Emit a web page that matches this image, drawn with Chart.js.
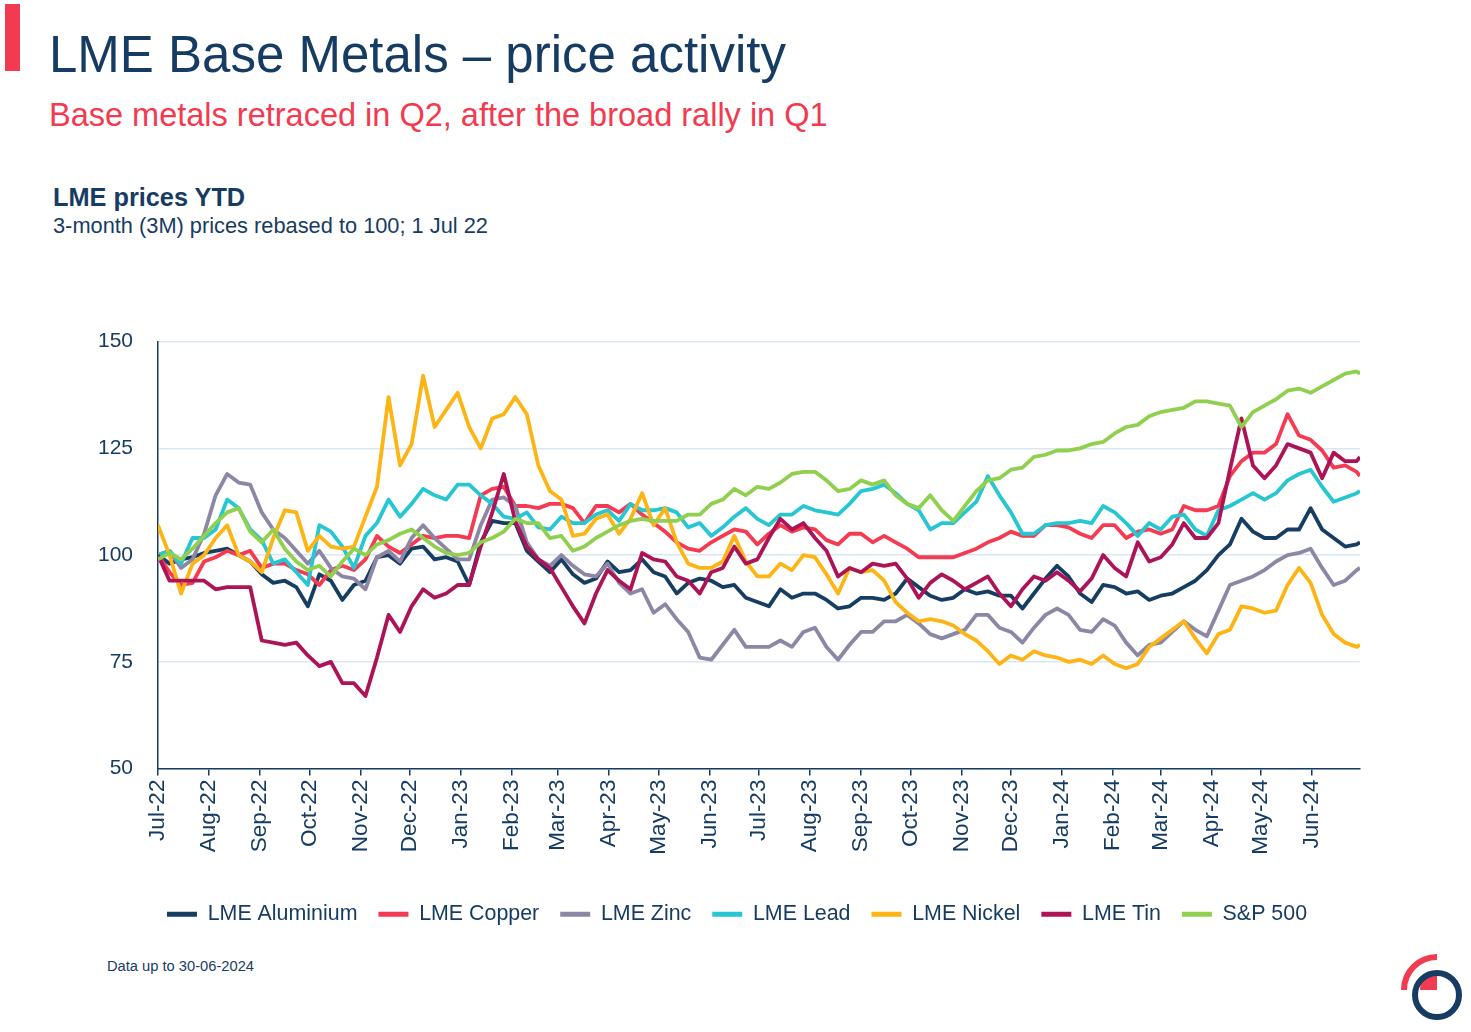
<!DOCTYPE html>
<html>
<head>
<meta charset="utf-8">
<script src="https://cdn.jsdelivr.net/npm/chart.js@4.4.1/dist/chart.umd.min.js"></script>
<style>
  body { margin:0; width:1471px; height:1032px; background:#fff; position:relative; overflow:hidden;
         font-family:'Liberation Sans', Arial, sans-serif; color:#173c63; }
  .abs { position:absolute; white-space:nowrap; line-height:1; }
  #bar { left:5px; top:4px; width:15px; height:67px; background:#f23a50; }
  #title { left:49px; top:29px; font-size:51px; }
  #subtitle { left:49px; top:99px; font-size:32.5px; color:#f23a50; }
  #heading { left:53px; top:185px; font-size:25.3px; font-weight:bold; }
  #note { left:53px; top:215px; font-size:21.8px; }
  #footer { left:107px; top:959px; font-size:14.7px; }
  #chart { position:absolute; left:80px; top:304px; }
  #logo { position:absolute; left:1390px; top:945px; }
</style>
</head>
<body>
<div id="bar" class="abs"></div>
<div id="title" class="abs">LME Base Metals – price activity</div>
<div id="subtitle" class="abs">Base metals retraced in Q2, after the broad rally in Q1</div>
<div id="heading" class="abs">LME prices YTD</div>
<div id="note" class="abs">3-month (3M) prices rebased to 100; 1 Jul 22</div>
<canvas id="chart" width="1300" height="631"></canvas>
<div id="footer" class="abs">Data up to 30-06-2024</div>
<svg id="logo" width="80" height="85">
  <path d="M14,45 A33,33 0 0 1 47,12" fill="none" stroke="#f23a50" stroke-width="6"/>
  <path d="M47,45 L30,45 A17,17 0 0 1 47,28 Z" fill="#f23a50"/>
  <circle cx="47" cy="50" r="22" fill="none" stroke="#173c63" stroke-width="6"/>
</svg>
<script>
// ---------------- DATA ----------------
const seriesNames = ['LME Aluminium', 'LME Copper', 'LME Zinc', 'LME Lead', 'LME Nickel', 'LME Tin', 'S&P 500'];
const seriesColors = ['#163d62', '#f43b51', '#8c87a5', '#26c6d2', '#fdb515', '#ad1457', '#90d04e'];

const monthLabels = ['Jul-22','Aug-22','Sep-22','Oct-22','Nov-22','Dec-22','Jan-23','Feb-23','Mar-23','Apr-23','May-23','Jun-23',
                     'Jul-23','Aug-23','Sep-23','Oct-23','Nov-23','Dec-23','Jan-24','Feb-24','Mar-24','Apr-24','May-24','Jun-24'];
// days since 1 Jul 22 for each month start
const monthDays = [0,31,62,92,123,153,184,215,243,274,304,335,365,396,427,457,488,518,549,580,609,640,670,701];
const yTicks = [50, 75, 100, 125, 150];

// weekly readings (rebased, 1 Jul 22 = 100), last value = 30 Jun 24
const aluminium = [100, 98, 99, 99.5, 100.5, 101, 101.5, 100, 98.5, 95.5,
  93.5, 94, 92.5, 88, 95.5, 94, 89.5, 93, 94, 99.5,
  100, 98, 101.5, 102, 99, 99.5, 98.5, 93, 103, 108,
  107.5, 107.5, 101, 98.5, 96, 99, 95.5, 93.5, 94.5, 98.5,
  96, 96.5, 99, 96, 95, 91, 93.5, 94.5, 94, 92.5,
  93, 90, 89, 88, 92, 90, 91, 91, 89.5, 87.5,
  88, 90, 90, 89.5, 91, 94.5, 92.5, 90.5, 89.5, 90,
  92, 91, 91.5, 90.5, 90.5, 87.5, 91, 94.5, 97.5, 95,
  91, 89, 93, 92.5, 91, 91.5, 89.5, 90.5, 91, 92.5,
  94, 96.5, 100, 102.5, 108.5, 105.5, 104, 104, 106, 106,
  111, 106, 104, 102, 102.5, 103];

const copper = [100, 96, 93, 93.5, 98.5, 99.5, 101, 100, 101, 97,
  98, 98, 96.5, 95.5, 93, 96.5, 97.5, 96.5, 99, 104.5,
  102, 100.5, 102.5, 104.5, 104, 104.5, 104.5, 104, 114, 115.5,
  116, 111.5, 111.5, 111, 112, 112, 111, 107.5, 111.5, 111.5,
  110, 112, 109.5, 107.5, 105.5, 103, 101.5, 101, 103, 104.5,
  106, 105.5, 102.5, 105, 107, 105.5, 106.5, 106, 103.5, 102.5,
  105, 105, 103, 104.5, 103, 101.5, 99.5, 99.5, 99.5, 99.5,
  100.5, 101.5, 103, 104, 105.5, 104.5, 104.5, 107, 107, 106.5,
  105, 104, 107, 107, 104, 105.5, 106, 105, 106, 111.5,
  110.5, 110.5, 111.5, 118.5, 122, 124, 124, 126, 133, 128,
  127, 124.5, 120.5, 121, 119.5, 118.5];

const zinc = [100, 101, 97, 99, 105, 114, 119, 117, 116.5, 110,
  106, 104, 101, 98, 101, 97, 95, 94.5, 92, 99.5,
  101, 98.5, 104, 107, 104, 101.5, 99, 99, 107, 113,
  113.5, 111.5, 103, 99, 97.5, 100, 97.5, 95.5, 95, 98,
  93.5, 91, 92, 86.5, 88.5, 85, 82, 76, 75.5, 79,
  82.5, 78.5, 78.5, 78.5, 80, 78.5, 82, 83, 78.5, 75.5,
  79, 82, 82, 84.5, 84.5, 86, 84, 81.5, 80.5, 81.5,
  82.5, 86, 86, 83, 82, 79.5, 83, 86, 87.5, 86,
  82.5, 82, 85, 83.5, 79.5, 76.5, 79, 79.5, 82, 84.5,
  82.5, 81, 87, 93, 94, 95, 96.5, 98.5, 100, 100.5,
  101.5, 97, 93, 94, 96.5, 97];

const lead = [100, 101, 98, 104, 104, 106, 113, 111, 106, 103.5,
  98, 99, 96, 93, 107, 105.5, 102, 97, 104.5, 107.5,
  113, 109, 112, 115.5, 114, 113, 116.5, 116.5, 114, 112,
  109, 108.5, 110, 106.5, 106, 109, 107.5, 107.5, 109.5, 110.5,
  108, 112, 110.5, 110.5, 111, 110, 106.5, 107.5, 104.5, 106.5,
  109, 111, 108.5, 107, 109.5, 109.5, 111.5, 110.5, 110, 109.5,
  112, 115, 115.5, 116.5, 114.5, 112, 110.5, 106, 107.5, 107.5,
  110, 112.5, 118.5, 114, 110, 105, 105, 107, 107.5, 107.5,
  108, 107.5, 111.5, 110, 107.5, 104.5, 107.5, 106, 109, 109.5,
  106, 104.5, 110.5, 111.5, 113, 114.5, 113, 114.5, 117.5, 119,
  120, 116, 112.5, 113.5, 114.5, 115];

const nickel = [107, 100, 91, 98, 100, 104, 107, 100, 98.5, 96,
  104, 110.5, 110, 101, 104.5, 102, 101.5, 102, 109, 116,
  137, 121, 126, 142, 130, 134, 138, 130, 125, 132,
  133, 137, 133, 121, 115, 113, 104.5, 105, 108.5, 109.5,
  105, 108.5, 114.5, 107, 111, 103, 98, 97, 97, 98.5,
  104.5, 98.5, 95, 95, 98, 96.5, 100, 99.5, 95.5, 91,
  97, 96, 96.5, 94, 89, 86.5, 84.5, 85, 84.5, 83.5,
  81.5, 80, 77.5, 74.5, 76.5, 75.5, 77.5, 76.5, 76, 75,
  75.5, 74.5, 76.5, 74.5, 73.5, 74.5, 78.5, 80.5, 82.5, 84.5,
  80.5, 77, 81.5, 82.5, 88, 87.5, 86.5, 87, 93, 97,
  93.5, 86, 81.5, 79.5, 78.5, 79];

const tin = [100, 94, 94, 94, 94, 92, 92.5, 92.5, 92.5, 80,
  79.5, 79, 79.5, 76.5, 74, 75, 70, 70, 67, 76,
  86, 82, 88, 92, 90, 91, 93, 93, 102, 110,
  119, 108, 102, 99, 97, 92.5, 88, 84, 91, 96.5,
  94, 92, 100.5, 99, 98.5, 95, 94, 91, 96, 97,
  102, 98, 99, 104, 108.5, 106, 107.5, 104, 101, 95,
  97, 96, 98, 97.5, 98, 94.5, 90, 93.5, 95.5, 94,
  92, 93.5, 95, 91, 88, 92, 95, 94, 96, 94,
  91.5, 94.5, 100, 97, 95, 103, 98.5, 99.5, 102.5, 107.5,
  104, 104, 107.5, 120, 132, 121, 118, 121, 126, 125,
  124, 118, 124, 122, 122, 123];

const sp500 = [99, 100.5, 99, 101.5, 104.5, 107.5, 110, 111, 105.5, 103,
  106, 101.5, 98.5, 96.5, 97.5, 95, 98.5, 101.5, 100, 102.5,
  103.5, 105, 106, 104, 102, 100.5, 100, 100.5, 103, 104,
  105.5, 108.5, 107.5, 107.5, 104, 104.5, 101, 102, 104, 105.5,
  107, 108, 108.5, 108, 108, 108, 109.5, 109.5, 112, 113,
  115.5, 114, 116, 115.5, 117, 119, 119.5, 119.5, 117.5, 115,
  115.5, 117.5, 116.5, 117.5, 114, 112, 111, 114, 110.5, 108,
  111.5, 115, 117.5, 118, 120, 120.5, 123, 123.5, 124.5, 124.5,
  125, 126, 126.5, 128.5, 130, 130.5, 132.5, 133.5, 134, 134.5,
  136, 136, 135.5, 135, 130, 133.5, 135, 136.5, 138.5, 139,
  138, 139.5, 141, 142.5, 143, 142.5];

// sample dates: weekly from 1 Jul 22, last one 30 Jun 24
const sampleDays = aluminium.map((v, i) => Math.min(i * 7, 730));

// ---------------- CHART ----------------
const navy = '#173c63';
const fontFamily = "'Liberation Sans', Arial, sans-serif";
const allSeries = [aluminium, copper, zinc, lead, nickel, tin, sp500];

const datasets = allSeries.map((values, i) => ({
    label: seriesNames[i],
    data: values.map((v, j) => ({ x: sampleDays[j], y: v })),
    borderColor: seriesColors[i],
    backgroundColor: seriesColors[i],
    borderWidth: 3.8,
    borderJoinStyle: 'round',
    pointRadius: 0,
    tension: 0,
    order: allSeries.length - 1 - i   // later series on top
}));

// legend is centred on the slide, not on the canvas
const legendShift = {
    id: 'legendShift',
    afterLayout: chart => { chart.legend.left += 17; chart.legend.right += 17; }
};

new Chart(document.getElementById('chart'), {
    type: 'line',
    data: { datasets: datasets },
    plugins: [legendShift],
    options: {
        responsive: false,
        animation: false,
        layout: { padding: { left: 0, right: 20, top: 15, bottom: 0 } },
        plugins: {
            tooltip: { enabled: false },
            legend: {
                position: 'bottom',
                labels: {
                    color: navy,
                    font: { family: fontFamily, size: 21.4 },
                    boxWidth: 30,
                    boxHeight: 5,
                    padding: 21,
                    sort: (a, b) => a.datasetIndex - b.datasetIndex,
                    generateLabels: chart => Chart.defaults.plugins.legend.labels.generateLabels(chart)
                        .map(l => Object.assign(l, { lineWidth: 0 }))
                }
            }
        },
        scales: {
            x: {
                type: 'linear',
                min: 0,
                max: 730,
                afterBuildTicks: axis => { axis.ticks = monthDays.map(v => ({ value: v })); },
                afterFit: scale => { scale.height = 114; },
                ticks: {
                    autoSkip: false,
                    minRotation: 90,
                    maxRotation: 90,
                    padding: 4,
                    color: navy,
                    font: { family: fontFamily, size: 22.5 },
                    callback: (value, index) => monthLabels[index]
                },
                grid: { drawOnChartArea: false, drawTicks: true, tickLength: 7, color: navy, lineWidth: 1.5 },
                border: { color: navy, width: 1.5 }
            },
            y: {
                min: 50,
                max: 150,
                afterBuildTicks: axis => { axis.ticks = yTicks.map(v => ({ value: v })); },
                afterFit: scale => { scale.width = 78; },
                ticks: {
                    padding: 25,
                    color: navy,
                    font: { family: fontFamily, size: 21 }
                },
                grid: { drawTicks: false, color: '#d9e7f5', lineWidth: 1.5 },
                border: { color: navy, width: 1.5 }
            }
        }
    }
});
</script>
</body>
</html>
